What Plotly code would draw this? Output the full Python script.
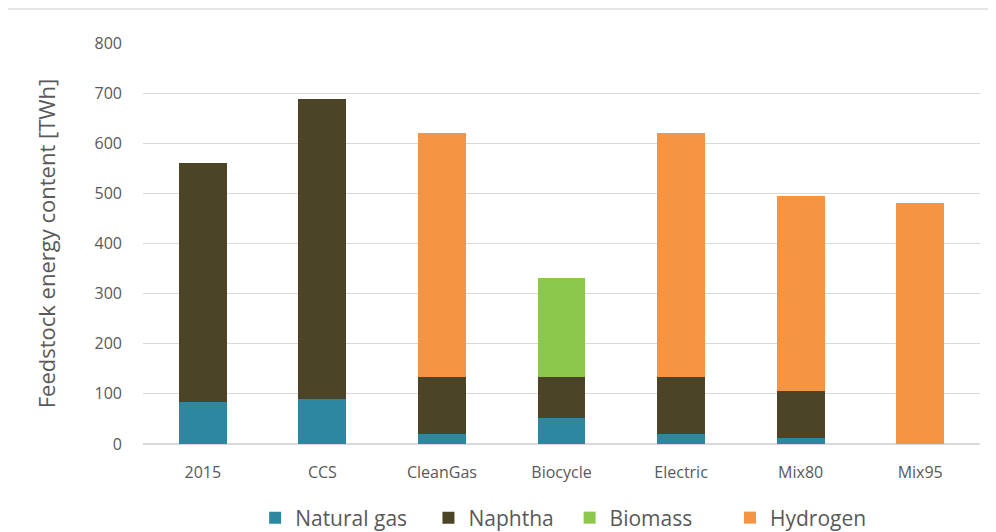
import plotly.graph_objects as go

categories = ["2015", "CCS", "CleanGas", "Biocycle", "Electric", "Mix80", "Mix95"]
natural_gas = [83, 90, 20, 51, 20, 12, 0]
naphtha = [478, 598, 114, 83, 114, 93, 0]
biomass = [0, 0, 0, 197, 0, 0, 0]
hydrogen = [0, 0, 487, 0, 487, 389, 480]
y_ticks = [0, 100, 200, 300, 400, 500, 600, 700, 800]
series_names = ["Natural gas", "Naphtha", "Biomass", "Hydrogen"]
legend_pad = [3, 2, 6, 0]  # non-breaking spaces after each legend name

colors = ["#2C87A0", "#4B4427", "#8CC84B", "#F59443"]
values = [natural_gas, naphtha, biomass, hydrogen]

fig = go.Figure()
for name, vals, col, pad in zip(series_names, values, colors, legend_pad):
    fig.add_trace(go.Bar(x=categories, y=vals, name=name + "\u00a0" * pad,
                         marker_color=col, marker_line_width=0,
                         hovertemplate=name + ": %{y}<extra></extra>"))

fig.update_layout(
    barmode="stack",
    bargap=0.6,
    width=988, height=524,
    margin=dict(l=135, r=16, t=35, b=88, autoexpand=False),
    paper_bgcolor="white", plot_bgcolor="white",
    font=dict(family="Open Sans, sans-serif", color="#595959"),
    legend=dict(orientation="h", x=0.134, xanchor="left", y=-0.1845, yanchor="middle",
                font=dict(size=21, color="#595959"), traceorder="normal",
                itemwidth=30),
    shapes=[dict(type="line", xref="paper", yref="paper", x0=-0.2, x1=1.1,
                 y0=1.085, y1=1.085, line=dict(color="#E6E6E6", width=2))],
)
fig.update_xaxes(tickfont=dict(size=16, color="#595959"), showline=False,
                 ticks="", showgrid=False, automargin=False, ticklabelstandoff=17)
fig.update_yaxes(range=[0, 800], tickvals=y_ticks, showgrid=True, gridcolor="#D9D9D9",
                 gridwidth=1, zeroline=True, zerolinecolor="#D9D9D9",
                 tickfont=dict(size=16, color="#595959"), ticks="", ticklen=0,
                 ticklabelstandoff=20, automargin=False,
                 title=dict(text="Feedstock energy content [TWh]",
                            font=dict(size=22, color="#595959"), standoff=32))

fig.write_html("out.html")
